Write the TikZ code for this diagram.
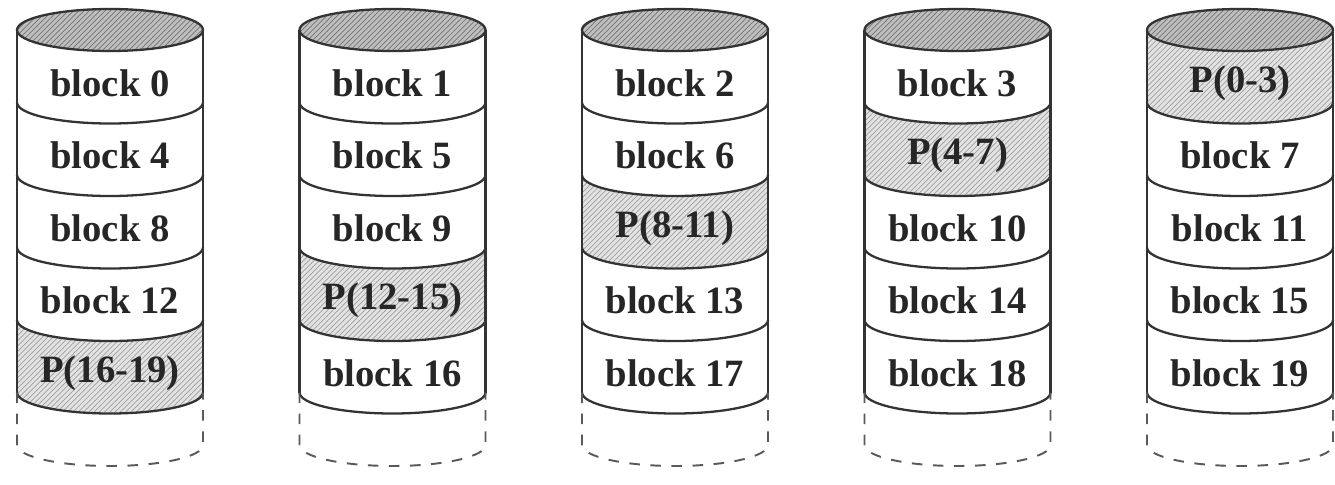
\documentclass[tikz,border=0pt]{standalone}
\usepackage{fontspec}
\setmainfont{Liberation Serif}
\usetikzlibrary{patterns}

\begin{document}
\begin{tikzpicture}
    % Define styles
    \tikzset{
        wall/.style={draw=black!80, line width=1.3pt},
        spare/.style={draw=black!65, line width=1.1pt, dash pattern=on 6pt off 6pt},
        lid/.style={preaction={fill=gray!50}, pattern=north east lines, pattern color=black!55},
        parity/.style={preaction={fill=gray!22}, pattern=north east lines, pattern color=gray!75},
        blocktext/.style={font=\fontsize{22}{26}\selectfont\bfseries, text=black!85}
    }
    \def\rx{1.86}
    \def\ry{0.42}

    \useasboundingbox (0,0) rectangle (26.7,-9.7);

    % Parity strips
    \foreach \cx/\yt in {2.2/-6.4, 7.85/-4.95, 13.5/-3.5, 19.15/-2.05, 24.8/-0.6}
        \fill[parity] ({\cx-\rx},\yt) arc[start angle=180, end angle=360, x radius=\rx, y radius=\ry]
            -- ({\cx+\rx},\yt-1.45) arc[start angle=0, end angle=-180, x radius=\rx, y radius=\ry] -- cycle;

    % Disks
    \foreach \cx in {2.2, 7.85, 13.5, 19.15, 24.8} {
        \draw[wall] ({\cx-\rx},-0.6) -- ({\cx-\rx},-7.85);
        \draw[wall] ({\cx+\rx},-0.6) -- ({\cx+\rx},-7.85);
        \foreach \y in {-2.05, -3.5, -4.95, -6.4, -7.85}
            \draw[wall] ({\cx-\rx},\y) arc[start angle=180, end angle=360, x radius=\rx, y radius=\ry];
        \draw[wall, lid] (\cx,-0.6) ellipse[x radius=\rx, y radius=\ry];
        \draw[spare] ({\cx-\rx},-7.85) -- ({\cx-\rx},-8.9)
            arc[start angle=180, end angle=360, x radius=\rx, y radius=\ry] -- ({\cx+\rx},-7.85);
    }

    % Nodes
    \node[blocktext] (blk0) at (2.2,-1.66) {block 0};
    \node[blocktext] (blk4) at (2.2,-3.11) {block 4};
    \node[blocktext] (blk8) at (2.2,-4.56) {block 8};
    \node[blocktext] (blk12) at (2.2,-6.01) {block 12};
    \node[blocktext] (par16) at (2.2,-7.46) {P(16-19)};

    \node[blocktext] (blk1) at (7.85,-1.66) {block 1};
    \node[blocktext] (blk5) at (7.85,-3.11) {block 5};
    \node[blocktext] (blk9) at (7.85,-4.56) {block 9};
    \node[blocktext] (par12) at (7.85,-6.01) {P(12-15)};
    \node[blocktext] (blk16) at (7.85,-7.46) {block 16};

    \node[blocktext] (blk2) at (13.5,-1.66) {block 2};
    \node[blocktext] (blk6) at (13.5,-3.11) {block 6};
    \node[blocktext] (par8) at (13.5,-4.56) {P(8-11)};
    \node[blocktext] (blk13) at (13.5,-6.01) {block 13};
    \node[blocktext] (blk17) at (13.5,-7.46) {block 17};

    \node[blocktext] (blk3) at (19.15,-1.66) {block 3};
    \node[blocktext] (par4) at (19.15,-3.11) {P(4-7)};
    \node[blocktext] (blk10) at (19.15,-4.56) {block 10};
    \node[blocktext] (blk14) at (19.15,-6.01) {block 14};
    \node[blocktext] (blk18) at (19.15,-7.46) {block 18};

    \node[blocktext] (par0) at (24.8,-1.66) {P(0-3)};
    \node[blocktext] (blk7) at (24.8,-3.11) {block 7};
    \node[blocktext] (blk11) at (24.8,-4.56) {block 11};
    \node[blocktext] (blk15) at (24.8,-6.01) {block 15};
    \node[blocktext] (blk19) at (24.8,-7.46) {block 19};
\end{tikzpicture}
\end{document}
